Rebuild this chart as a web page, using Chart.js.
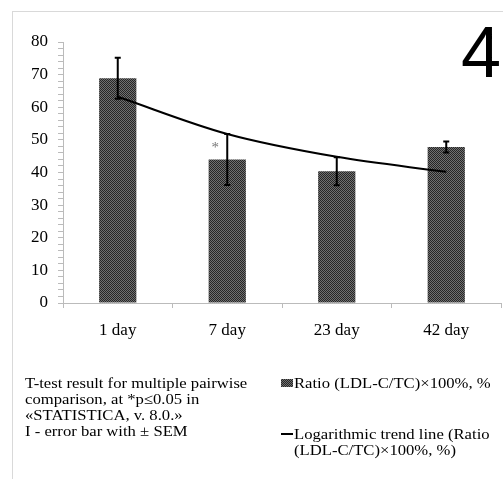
<!DOCTYPE html>
<html>
<head>
<meta charset="utf-8">
<script src="https://cdn.jsdelivr.net/npm/chart.js@4.4.1/dist/chart.umd.min.js"></script>
<style>
  html, body { margin: 0; padding: 0; background: #fff; }
  #wrap { position: relative; width: 503px; height: 479px; overflow: hidden; }
  #frame { position: absolute; left: 12px; top: 11px; right: -2px; bottom: -2px;
           border-top: 1px solid #d9d9d9; border-left: 1px solid #d9d9d9; }
  #chart { position: absolute; left: 0; top: 0; }
  .txt { position: absolute; font-family: "Liberation Serif", "Times New Roman", serif;
         font-size: 15px; line-height: 16px; color: #000; white-space: nowrap;
         transform: scaleX(1.11); transform-origin: 0 0; }
  #num { position: absolute; left: 461px; top: 12px; font-family: "Liberation Sans", Arial, sans-serif;
         font-size: 72px; line-height: 80px; color: #000; }
  .swatch { position: absolute; left: 281px; width: 12px; height: 8px;
            background-image: repeating-conic-gradient(#262626 0 25%, #707070 0 50%);
            background-size: 2px 2px; }
  .dash { position: absolute; left: 281px; width: 12px; height: 2px; background: #000; }
</style>
</head>
<body>
<div id="wrap">
  <div id="frame"></div>
  <canvas id="chart" width="503" height="479"></canvas>
  <div id="num">4</div>
  <div class="txt" style="left:25px; top:375px;">T-test result for multiple pairwise<br>comparison, at *p&le;0.05 in<br>&laquo;STATISTICA, v. 8.0.&raquo;<br>I - error bar with &plusmn; SEM</div>
  <div class="swatch" style="top:379px;"></div>
  <div class="txt" style="left:294px; top:375px;">Ratio (LDL-C/TC)&times;100%, %</div>
  <div class="dash" style="top:433px;"></div>
  <div class="txt" style="left:294px; top:426px;">Logarithmic trend line (Ratio<br>(LDL-C/TC)&times;100%, %)</div>
</div>
<script>
const days = ['1 day', '7 day', '23 day', '42 day'];
const ratio = [68.9, 44.0, 40.4, 47.8];
const sem = [6.3, 7.8, 4.3, 1.7];
const trend = [63.2, 51.8, 44.8, 40.2];
const marks = ['', '*', '', ''];
const yTicks = [0, 10, 20, 30, 40, 50, 60, 70, 80];

// checkered fill like the original bars
function makePattern() {
  const c = document.createElement('canvas');
  c.width = 2;
  c.height = 2;
  const g = c.getContext('2d');
  g.fillStyle = '#262626';
  g.fillRect(0, 0, 2, 2);
  g.fillStyle = '#707070';
  g.fillRect(1, 0, 1, 1);
  g.fillRect(0, 1, 1, 1);
  return g.createPattern(c, 'repeat');
}

const errorBars = {
  id: 'errorBars',
  afterDatasetsDraw(chart) {
    const ctx = chart.ctx;
    const y = chart.scales.y;
    const meta = chart.getDatasetMeta(1);
    ctx.save();
    ctx.strokeStyle = '#000';
    ctx.lineWidth = 2;
    meta.data.forEach((bar, i) => {
      const top = y.getPixelForValue(ratio[i] + sem[i]);
      const bot = y.getPixelForValue(ratio[i] - sem[i]);
      ctx.beginPath();
      ctx.moveTo(bar.x, top);
      ctx.lineTo(bar.x, bot);
      ctx.moveTo(bar.x - 3, top);
      ctx.lineTo(bar.x + 3, top);
      ctx.moveTo(bar.x - 3, bot);
      ctx.lineTo(bar.x + 3, bot);
      ctx.stroke();
      if (marks[i]) {
        ctx.fillStyle = '#777';
        ctx.font = '15px "Liberation Serif"';
        ctx.textAlign = 'center';
        ctx.textBaseline = 'middle';
        ctx.fillText(marks[i], bar.x - 12, y.getPixelForValue(ratio[i] + 3.5));
      }
    });
    ctx.restore();
  }
};

const ctx = document.getElementById('chart').getContext('2d');
new Chart(ctx, {
  type: 'bar',
  data: {
    labels: days,
    datasets: [
      {
        type: 'line',
        label: 'Logarithmic trend line (Ratio (LDL-C/TC)×100%, %)',
        data: trend,
        borderColor: '#000',
        borderWidth: 2,
        pointRadius: 0,
        cubicInterpolationMode: 'monotone',
        fill: false,
        order: 0
      },
      {
        label: 'Ratio (LDL-C/TC)×100%, %',
        data: ratio,
        backgroundColor: makePattern(),
        barPercentage: 0.34,
        categoryPercentage: 1,
        order: 1
      }
    ]
  },
  options: {
    responsive: false,
    animation: false,
    layout: { padding: { top: 42, right: 2, left: 0, bottom: 126 } },
    plugins: { legend: { display: false }, tooltip: { enabled: false } },
    scales: {
      x: {
        grid: { display: true, drawOnChartArea: false, offset: true, tickLength: 5, color: '#bbb' },
        border: { color: '#bbb', width: 1 },
        ticks: { color: '#000', padding: 12, font: { family: 'Liberation Serif', size: 17 } },
        afterFit: (s) => { s.height = 50; }
      },
      y: {
        min: 0,
        max: 80,
        grid: { display: true, drawOnChartArea: false, tickLength: 5, color: '#bbb' },
        border: { color: '#bbb', width: 1 },
        ticks: {
          stepSize: 2,
          autoSkip: false,
          color: '#000',
          padding: 10,
          font: { family: 'Liberation Serif', size: 17 },
          callback: (v) => yTicks.includes(v) ? v : ''
        },
        afterFit: (s) => { s.width = 63; }
      }
    }
  },
  plugins: [errorBars]
});
</script>
</body>
</html>
